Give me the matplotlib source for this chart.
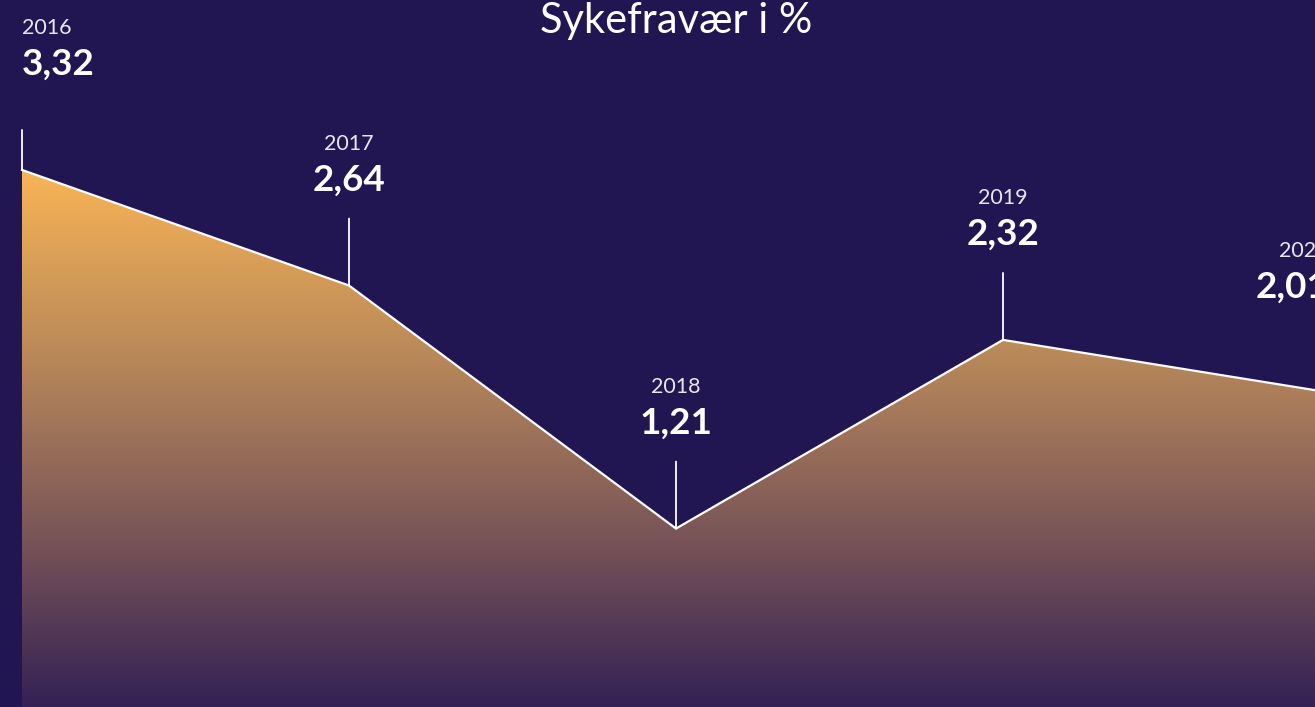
import matplotlib.pyplot as plt
import numpy as np
from matplotlib.colors import LinearSegmentedColormap

years = ['2016', '2017', '2018', '2019', '2020']
values = [3.32, 2.64, 1.21, 2.32, 2.01]
labels = ['3,32', '2,64', '1,21', '2,32', '2,01']
title = 'Sykefravær i %'

BG = '#221652'
FONT = ['Lato', 'DejaVu Sans']

fig = plt.figure(figsize=(13.15, 7.07), dpi=100, facecolor=BG)
ax = fig.add_axes([0, 0, 1, 1])
ax.set_facecolor(BG)
ax.set_axis_off()

x = np.arange(len(values))

# gradient area clipped to the polygon under the line
poly = ax.fill_between(x, values, 0, color='none', lw=0)
cmap = LinearSegmentedColormap.from_list('warm', ['#281954', '#765258', '#b8885a', '#f9b455'])
grad = np.linspace(0, 1, 256).reshape(-1, 1)
img = ax.imshow(grad, cmap=cmap, aspect='auto', origin='lower',
                extent=[x[0], x[-1], 0, max(values)], zorder=1)
img.set_clip_path(poly.get_paths()[0], transform=ax.transData)
ax.set_xlim(-22 / 327, 1293 / 327)
ax.set_ylim(0.16, 4.32)

ax.plot(x, values, color='white', lw=1.6, zorder=3, solid_joinstyle='miter')

n = len(values)
for i, (xi, v) in enumerate(zip(x, values)):
    stem = 40 if i == 0 else 67
    ax.annotate('', xy=(xi, v), xytext=(0, stem), textcoords='offset pixels',
                arrowprops=dict(arrowstyle='-', color='white', lw=1.3,
                                shrinkA=0, shrinkB=0), zorder=3,
                annotation_clip=False)
    ha = 'left' if i == 0 else ('right' if i == n - 1 else 'center')
    dx = -2 if i == n - 1 else 0
    ax.annotate(years[i], xy=(xi, v), xytext=(dx, 136), textcoords='offset pixels',
                ha=ha, va='baseline', color='#e8e6f0', fontsize=15.5,
                fontweight='normal', family=FONT, zorder=4, annotation_clip=False)
    ax.annotate(labels[i], xy=(xi, v), xytext=(dx, 95), textcoords='offset pixels',
                ha=ha, va='baseline', color='white', fontsize=26.5,
                fontweight='bold', family=FONT, zorder=4, annotation_clip=False)

fig.text(676 / 1315, 1 - 21 / 707, title, ha='center', va='center',
         color='white', fontsize=30, fontweight='normal', family=FONT)

fig.savefig('out.png', dpi=100, facecolor=BG)
